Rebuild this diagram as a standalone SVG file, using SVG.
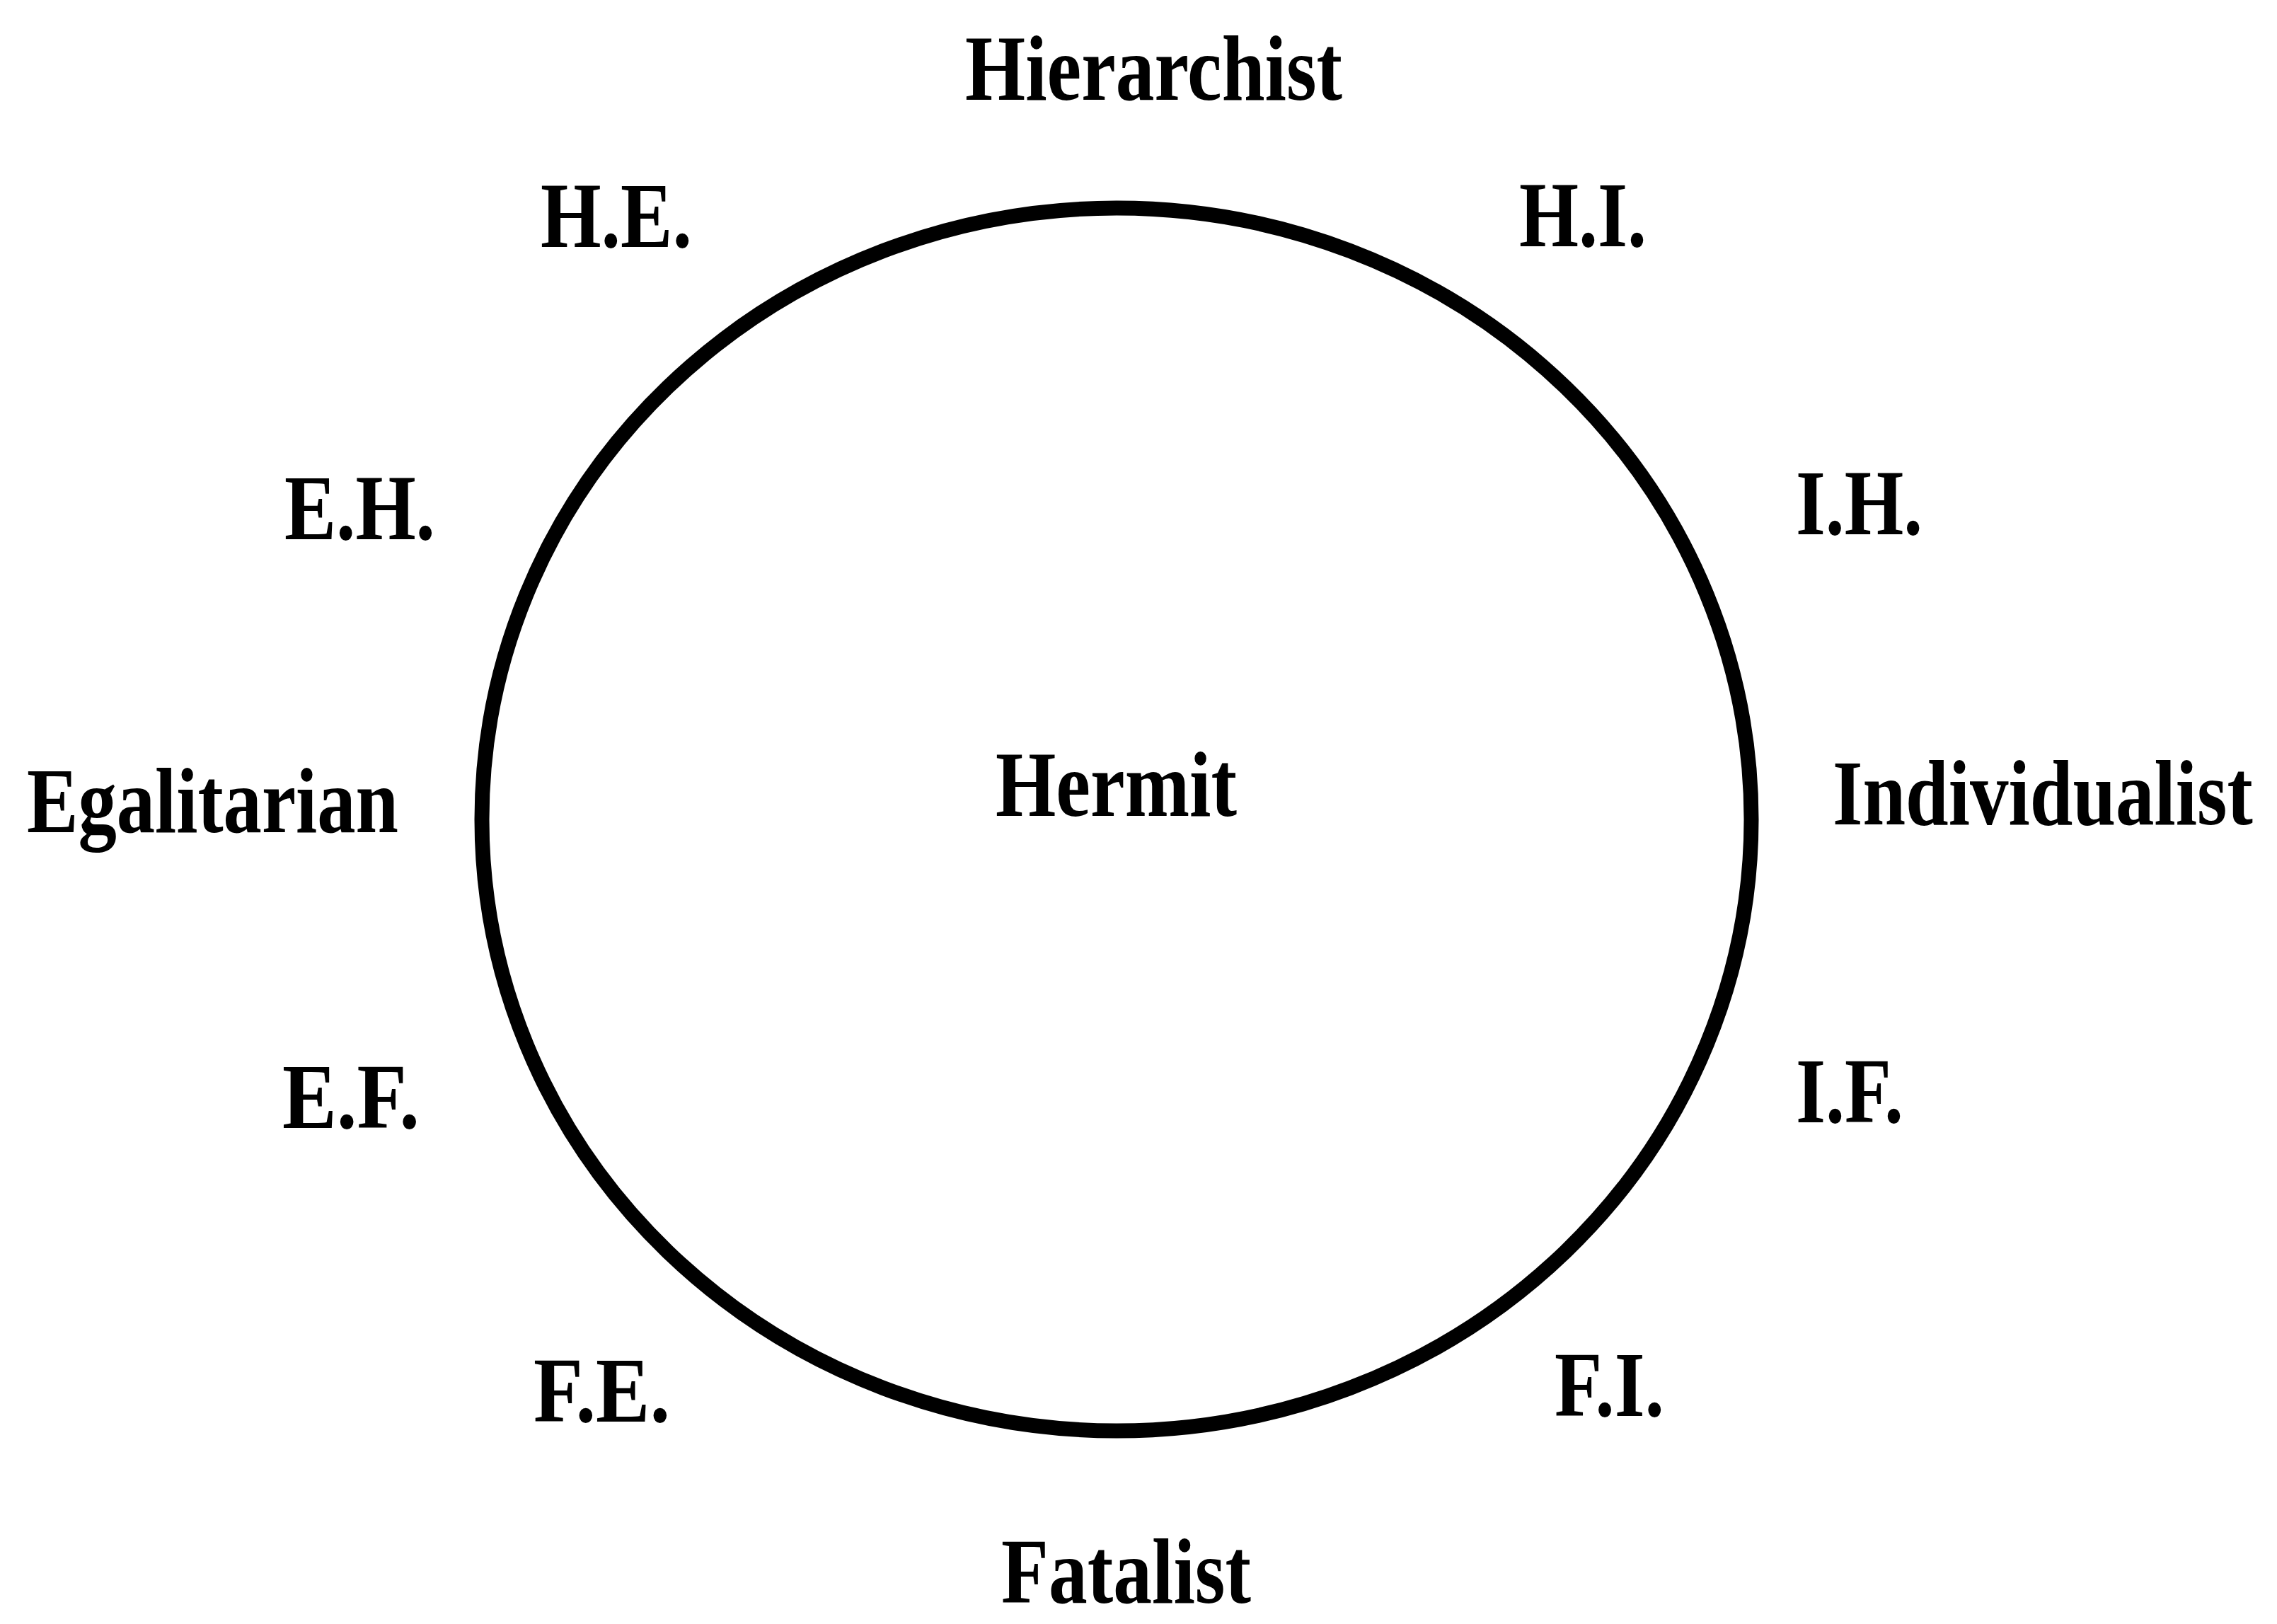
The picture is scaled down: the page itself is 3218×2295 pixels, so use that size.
<svg xmlns="http://www.w3.org/2000/svg" width="3218" height="2295" viewBox="0 0 3218 2295">
<style>
.lbl{font-family:"Liberation Serif","Times New Roman",serif;font-size:132px;font-weight:bold;fill:#000}
.ring{fill:none;stroke:#000;stroke-width:21}
</style>
<rect width="3218" height="2295" fill="#fff"/>
<g id="connectors"></g>
<g id="circle"><ellipse class="ring" cx="1578" cy="1158" rx="897" ry="864"/></g>
<g id="hierarchist"><text class="lbl" x="1364" y="141" textLength="533" lengthAdjust="spacingAndGlyphs">Hierarchist</text></g>
<g id="fatalist"><text class="lbl" x="1415" y="2265" textLength="353" lengthAdjust="spacingAndGlyphs">Fatalist</text></g>
<g id="egalitarian"><text class="lbl" x="38" y="1176" textLength="525" lengthAdjust="spacingAndGlyphs">Egalitarian</text></g>
<g id="individualist" transform="translate(2590,1165) scale(0.826,1)"><text class="lbl" x="0" y="0">Individualist</text></g>
<g id="hermit"><text class="lbl" x="1407" y="1153" textLength="341" lengthAdjust="spacingAndGlyphs">Hermit</text></g>
<g id="he"><text class="lbl" x="764" y="349" textLength="214" lengthAdjust="spacingAndGlyphs">H.E.</text></g>
<g id="eh"><text class="lbl" x="402" y="762" textLength="213" lengthAdjust="spacingAndGlyphs">E.H.</text></g>
<g id="hi"><text class="lbl" x="2147" y="348" textLength="180" lengthAdjust="spacingAndGlyphs">H.I.</text></g>
<g id="ih"><text class="lbl" x="2538" y="755" textLength="179" lengthAdjust="spacingAndGlyphs">I.H.</text></g>
<g id="ef"><text class="lbl" x="399" y="1594" textLength="194" lengthAdjust="spacingAndGlyphs">E.F.</text></g>
<g id="if"><text class="lbl" x="2538" y="1586" textLength="152" lengthAdjust="spacingAndGlyphs">I.F.</text></g>
<g id="fe"><text class="lbl" x="754" y="2009" textLength="193" lengthAdjust="spacingAndGlyphs">F.E.</text></g>
<g id="fi"><text class="lbl" x="2197" y="2001" textLength="155" lengthAdjust="spacingAndGlyphs">F.I.</text></g>
</svg>
